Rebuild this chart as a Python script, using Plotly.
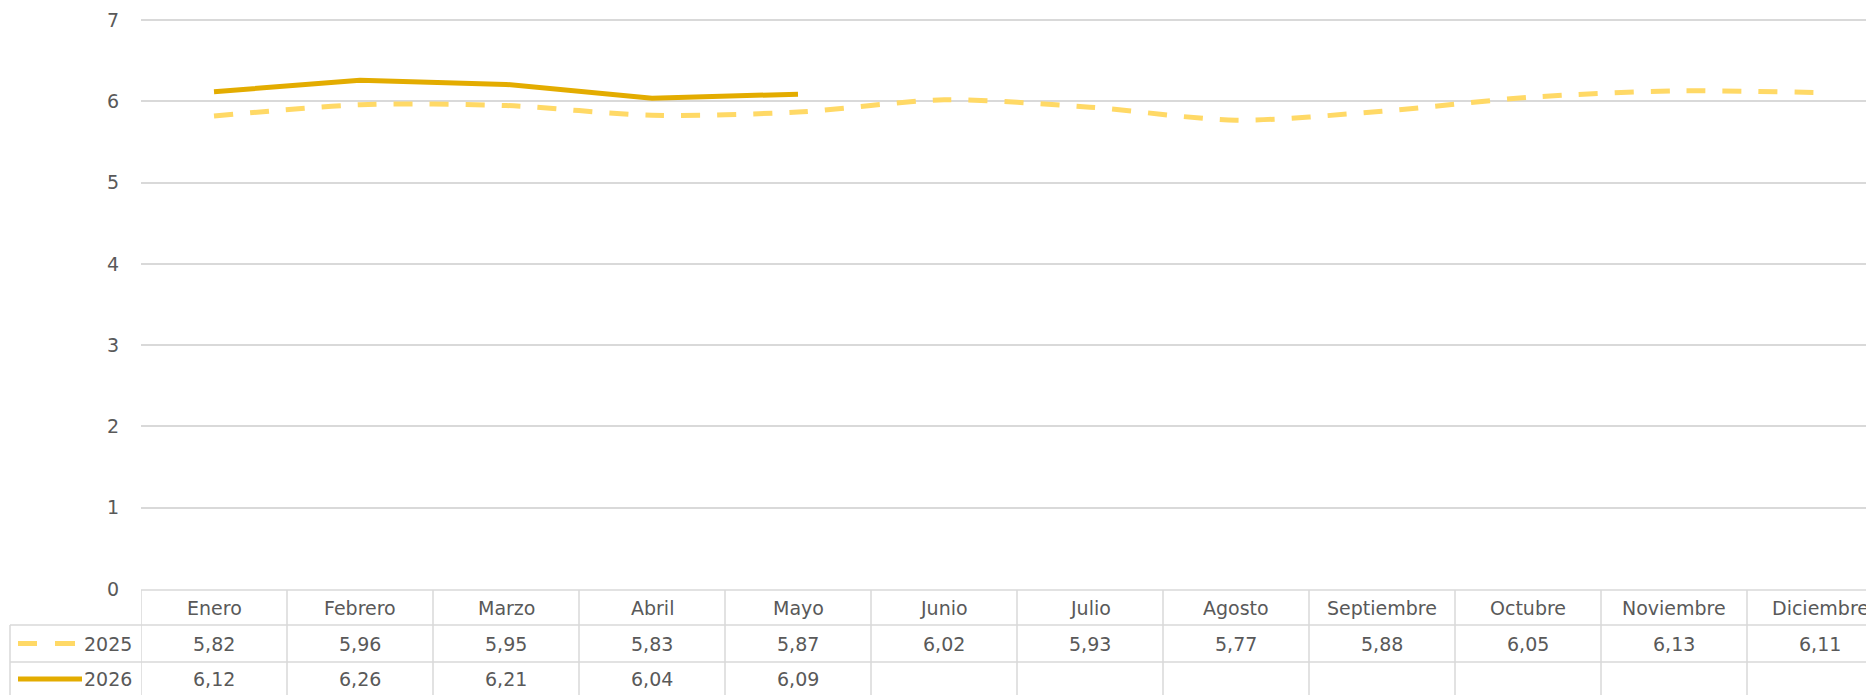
import plotly.graph_objects as go

months = ["Enero", "Febrero", "Marzo", "Abril", "Mayo", "Junio", "Julio",
          "Agosto", "Septiembre", "Octubre", "Noviembre", "Diciembre"]
series_names = ["2025", "2026"]
values_2025 = [5.82, 5.96, 5.95, 5.83, 5.87, 6.02, 5.93, 5.77, 5.88, 6.05, 6.13, 6.11]
values_2026 = [6.12, 6.26, 6.21, 6.04, 6.09]
y_ticks = [0, 1, 2, 3, 4, 5, 6, 7]

OFF = 8  # default page body margin
W, H = 1874 - OFF, 695 - OFF
ML, MT, MB = 141 - OFF, 19 - OFF, 106
plot_h = H - MT - MB
COL_W = 146
x_hi = -0.5 + (W - ML) / COL_W
Y_TOP = 7.015

C25 = "#FFD966"
C26 = "#E3AC00"
GRID = "#D9D9D9"
TXT = "#595959"
FONT = "DejaVu Sans"
FS = 19
LW = 5


def py(px):
    # page pixel row (from top) -> paper y
    return (H - MB - (px - OFF)) / plot_h


def px_x(px):
    return (px - OFF - ML) / (W - ML)


fig = go.Figure()
fig.add_trace(go.Scatter(x=list(range(12)), y=values_2025, mode="lines",
                         line=dict(color=C25, width=LW, dash="19px,17px", shape="spline", smoothing=0.8),
                         name=series_names[0], showlegend=False, hoverinfo="skip"))
fig.add_trace(go.Scatter(x=list(range(len(values_2026))), y=values_2026, mode="lines",
                         line=dict(color=C26, width=LW),
                         name=series_names[1], showlegend=False, hoverinfo="skip"))

shapes = []
annotations = []
row_top, row1, row2, row_bot = 590, 625, 662, 700
shapes.append(dict(type="line", xref="paper", yref="paper", x0=0, x1=1.05, y0=py(row_top), y1=py(row_top),
                   line=dict(color=GRID, width=1.5)))
for yy in (row1, row2):
    shapes.append(dict(type="line", xref="paper", yref="paper", x0=px_x(10), x1=1.05, y0=py(yy), y1=py(yy),
                       line=dict(color=GRID, width=1.5)))
for k in range(13):
    shapes.append(dict(type="line", xref="x", yref="paper", x0=-0.5 + k, x1=-0.5 + k,
                       y0=py(row_top), y1=py(row_bot), line=dict(color=GRID, width=1.5)))
shapes.append(dict(type="line", xref="paper", yref="paper", x0=px_x(10), x1=px_x(10),
                   y0=py(row1), y1=py(row_bot), line=dict(color=GRID, width=1.5)))
# legend keys
shapes.append(dict(type="line", xref="paper", yref="paper", x0=px_x(18), x1=px_x(37),
                   y0=py(643.5), y1=py(643.5), line=dict(color=C25, width=LW)))
shapes.append(dict(type="line", xref="paper", yref="paper", x0=px_x(55), x1=px_x(75),
                   y0=py(643.5), y1=py(643.5), line=dict(color=C25, width=LW)))
shapes.append(dict(type="line", xref="paper", yref="paper", x0=px_x(18), x1=px_x(82),
                   y0=py(679), y1=py(679), line=dict(color=C26, width=LW)))

font = dict(family=FONT, size=FS, color=TXT)
for i, m in enumerate(months):
    annotations.append(dict(x=i, y=py(607.5), xref="x", yref="paper", text=m, showarrow=False,
                            font=font, xanchor="center", yanchor="middle"))
for i, v in enumerate(values_2025):
    annotations.append(dict(x=i, y=py(643.5), xref="x", yref="paper", text=f"{v:.2f}".replace(".", ","),
                            showarrow=False, font=font, xanchor="center", yanchor="middle"))
for i, v in enumerate(values_2026):
    annotations.append(dict(x=i, y=py(679), xref="x", yref="paper", text=f"{v:.2f}".replace(".", ","),
                            showarrow=False, font=font, xanchor="center", yanchor="middle"))
for name, yy in zip(series_names, (643.5, 679)):
    annotations.append(dict(x=px_x(134), y=py(yy), xref="paper", yref="paper", text=name, showarrow=False,
                            font=font, xanchor="right", yanchor="middle"))

fig.update_layout(
    width=W, height=H,
    margin=dict(l=ML, r=0, t=MT, b=MB, pad=0),
    paper_bgcolor="white", plot_bgcolor="white",
    shapes=shapes, annotations=annotations,
    xaxis=dict(range=[-0.5, x_hi], showgrid=False, zeroline=False, showticklabels=False,
               showline=False, fixedrange=True),
    yaxis=dict(range=[0, Y_TOP], tickvals=y_ticks, ticktext=[str(t) for t in y_ticks],
               showgrid=True, gridcolor=GRID, gridwidth=1.5, zeroline=False, showline=False,
               tickfont=font, ticklabelstandoff=21, fixedrange=True),
    font=font,
)

fig.write_html("out.html")
